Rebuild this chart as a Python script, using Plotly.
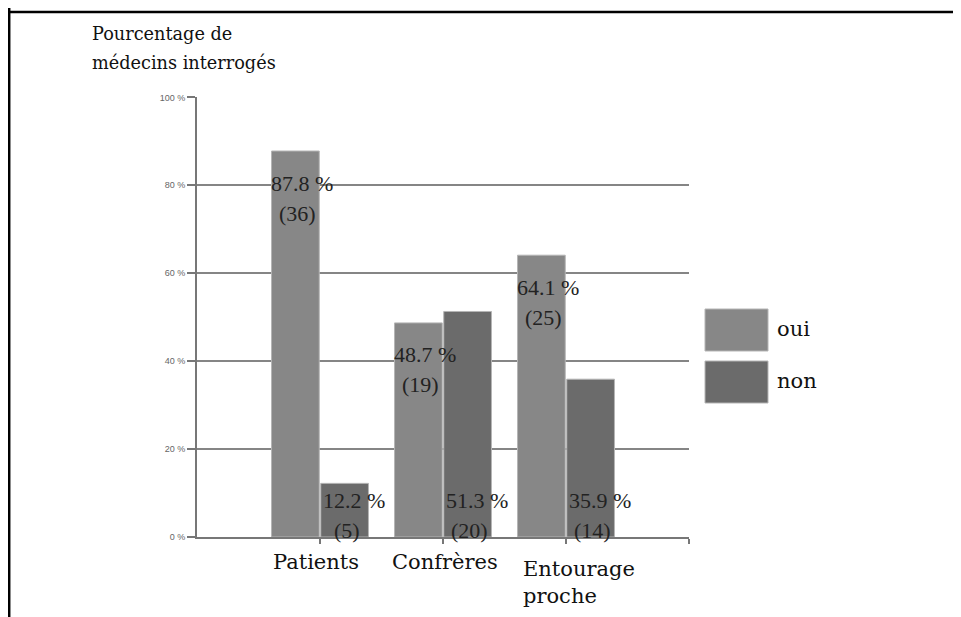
import plotly.graph_objects as go

# ---- data ----
categories = ["Patients", "Confrères", "Entourage<br>proche"]
series_names = ["oui", "non"]
oui_pct = [87.8, 48.7, 64.1]
non_pct = [12.2, 51.3, 35.9]
oui_n = [36, 19, 25]
non_n = [5, 20, 14]
y_tickvals = [0, 20, 40, 60, 80, 100]
y_ticktext = ["0 %", "20 %", "40 %", "60 %", "80 %", "100 %"]
y_title_lines = ["Pourcentage de", "médecins interrogés"]

# ---- styles ----
OFF = 8                      # page body margin
W, H = 961 - OFF, 617 - OFF
C_OUI = "#878787"
C_NON = "#6b6b6b"
SLAB = "DejaVu Serif"
TIMES = "Liberation Serif"
BARGAP = 0.2

idx = list(range(len(categories)))

def px_x(p):
    return (p - OFF) / W

def px_y(p):
    return 1 - (p - OFF) / H

fig = go.Figure()
fig.add_trace(go.Bar(x=idx, y=oui_pct, name=series_names[0],
                     marker=dict(color=C_OUI, line=dict(color="#b5b5b5", width=1)),
                     showlegend=False))
fig.add_trace(go.Bar(x=idx, y=non_pct, name=series_names[1],
                     marker=dict(color=C_NON, line=dict(color="#b5b5b5", width=1)),
                     showlegend=False))

ann = []
off = (1 - BARGAP) / 4
lab_font = dict(family=TIMES, size=22, color="#222")
# oui labels: inside, near the top of the bar
for i, (v, n) in enumerate(zip(oui_pct, oui_n)):
    ann.append(dict(x=i - off, y=v, xref="x", yref="y", text=f"{v} %", showarrow=False,
                    font=lab_font, xanchor="center", yanchor="middle", xshift=7, yshift=-32))
    ann.append(dict(x=i - off, y=v, xref="x", yref="y", text=f"({n})", showarrow=False,
                    font=lab_font, xanchor="center", yanchor="middle", xshift=2, yshift=-62))
# non labels: at the base of the bar
for i, (v, n) in enumerate(zip(non_pct, non_n)):
    ann.append(dict(x=i + off, y=0, xref="x", yref="y", text=f"{v} %", showarrow=False,
                    font=lab_font, xanchor="center", yanchor="middle", xshift=9, yshift=37))
    ann.append(dict(x=i + off, y=0, xref="x", yref="y", text=f"({n})", showarrow=False,
                    font=lab_font, xanchor="center", yanchor="middle", xshift=2, yshift=7))

# category labels
cat_xshift = [-49, -53, -45]
cat_yshift = [-25, -25, -45]
for i, c in enumerate(categories):
    ann.append(dict(x=i, y=0, xref="x", yref="y", text=c, showarrow=False, align="left",
                    font=dict(family=SLAB, size=21, color="#111"),
                    xanchor="left", yanchor="middle", xshift=cat_xshift[i], yshift=cat_yshift[i]))

# axis title (top-left), two lines
title_y = [34, 63]
for k, line in enumerate(y_title_lines):
    ann.append(dict(x=px_x(90), y=px_y(title_y[k]), xref="paper", yref="paper", text=line,
                    showarrow=False, align="left", xanchor="left", yanchor="middle",
                    font=dict(family=SLAB, size=17.7, color="#111")))

# legend (drawn manually to get large swatches)
shapes = []
leg_colors = [C_OUI, C_NON]
leg_top = [309, 361]
for k, name in enumerate(series_names):
    shapes.append(dict(type="rect", xref="paper", yref="paper",
                       x0=px_x(705), x1=px_x(768), y0=px_y(leg_top[k] + 42), y1=px_y(leg_top[k]),
                       fillcolor=leg_colors[k], line=dict(color="#b5b5b5", width=1)))
    ann.append(dict(x=px_x(775), y=px_y(leg_top[k] + 20), xref="paper", yref="paper",
                    text=name, showarrow=False, xanchor="left", yanchor="middle",
                    font=dict(family=SLAB, size=21, color="#111")))

# page border lines
shapes.append(dict(type="line", xref="paper", yref="paper", x0=0, x1=1, y0=px_y(12), y1=px_y(12),
                   line=dict(color="black", width=2.5)))
shapes.append(dict(type="line", xref="paper", yref="paper", x0=px_x(9.2), x1=px_x(9.2), y0=0, y1=1,
                   line=dict(color="black", width=2.5)))

fig.update_layout(
    template="none",
    width=W, height=H,
    margin=dict(l=0, r=0, t=0, b=0, pad=0),
    paper_bgcolor="white", plot_bgcolor="white",
    barmode="group", bargap=BARGAP, bargroupgap=0.03,
    showlegend=False,
    annotations=ann, shapes=shapes,
    xaxis=dict(domain=[px_x(197), px_x(689)], range=[-1, 3], automargin=False,
               tickvals=[0, 1, 2, 3], ticktext=["", "", "", ""],
               ticks="outside", ticklen=5, tickcolor="#777", tickwidth=1.5,
               showline=True, linecolor="#777", linewidth=1.5,
               showgrid=False, zeroline=False, fixedrange=True),
    yaxis=dict(domain=[px_y(537), px_y(96.5)], range=[0, 100.2], automargin=False,
               tickvals=y_tickvals, ticktext=y_ticktext,
               ticks="outside", ticklen=8, tickcolor="#777", tickwidth=1.5,
               tickfont=dict(family="Liberation Sans", size=9, color="#666"),
               showline=True, linecolor="#777", linewidth=2,
               showgrid=True, gridcolor="#858585", gridwidth=1.5,
               zeroline=False, fixedrange=True),
)

fig.write_html("out.html")
